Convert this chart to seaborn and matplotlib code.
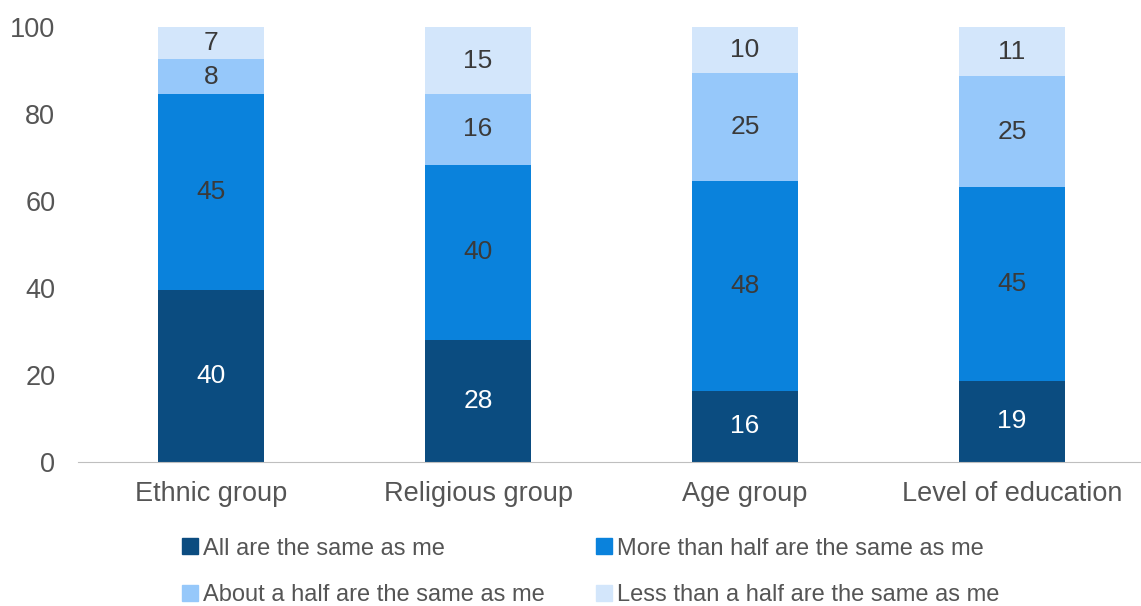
import seaborn as sns
import matplotlib.pyplot as plt
from matplotlib.lines import Line2D
import numpy as np
import pandas as pd

groups = ['Ethnic group', 'Religious group', 'Age group', 'Level of education']
series = ['All are the same as me', 'More than half are the same as me',
          'About a half are the same as me', 'Less than a half are the same as me']
# segment heights
all_same = [39.5, 28.0, 16.3, 18.6]
more_half = [45.1, 40.4, 48.3, 44.6]
about_half = [8.0, 16.3, 24.8, 25.5]
less_half = [7.4, 15.3, 10.6, 11.3]
# printed labels
lab_all = [40, 28, 16, 19]
lab_more = [45, 40, 48, 45]
lab_about = [8, 16, 25, 25]
lab_less = [7, 15, 10, 11]

colors = ['#0b4c80', '#0a82dc', '#96c8fa', '#d3e6fb']
txt_colors = ['white', '#3a3a3a', '#3a3a3a', '#3a3a3a']

sns.set_style('white')
plt.rcParams['font.family'] = ['Liberation Sans', 'DejaVu Sans']

fig = plt.figure(figsize=(11.41, 6.06), dpi=100)
ax = fig.add_axes([0.068, 0.238, 0.936, 0.717])

vals = [all_same, more_half, about_half, less_half]
labs = [lab_all, lab_more, lab_about, lab_less]
bottom = np.zeros(len(groups))
for i, s in enumerate(series):
    df = pd.DataFrame({'group': groups, 'value': vals[i]})
    sns.barplot(data=df, x='group', y='value', color=colors[i], width=0.4,
                bottom=bottom, ax=ax, saturation=1, edgecolor='none')
    for j in range(len(groups)):
        ax.text(j, bottom[j] + vals[i][j] / 2, str(labs[i][j]), ha='center', va='center',
                fontsize=19, color=txt_colors[i])
    bottom = bottom + np.array(vals[i])

ax.set_ylim(0, 100)
ax.set_xlim(-0.5, 3.5)
ax.set_yticks(range(0, 101, 20))
ax.set_xlabel('')
ax.set_ylabel('')
for sp in ['top', 'right', 'left']:
    ax.spines[sp].set_visible(False)
ax.spines['bottom'].set_color('#bfbfbf')
ax.tick_params(axis='both', length=0, labelsize=19.5, colors='#555555')
ax.tick_params(axis='y', pad=16)
ax.tick_params(axis='x', pad=14)

handles = [Line2D([], [], marker='s', linestyle='none', markersize=11, color=c) for c in colors]
order = [0, 2, 1, 3]
fig.legend([handles[k] for k in order], [series[k] for k in order], ncol=2, loc='center',
           bbox_to_anchor=(0.518, 0.056), frameon=False, fontsize=17, handlelength=0.6,
           handletextpad=0.25, columnspacing=2.2, labelspacing=1.05, labelcolor='#555555')

fig.savefig('out.png', dpi=100)
